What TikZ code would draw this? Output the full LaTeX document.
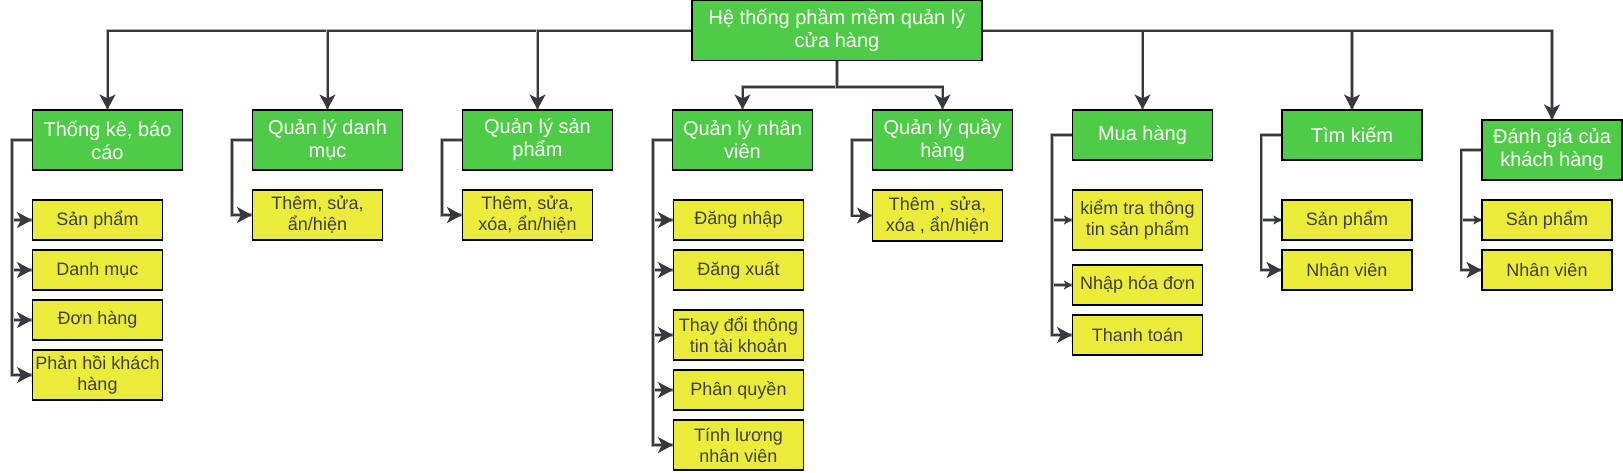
\documentclass[tikz,border=0pt]{standalone}
\usepackage{fontspec}
\setmainfont{Liberation Sans}
\usetikzlibrary{arrows.meta,calc}
\definecolor{gfill}{HTML}{4ECC47}
\definecolor{yfill}{HTML}{EBEB3A}
\definecolor{lcol}{HTML}{36393D}
\definecolor{tcol}{HTML}{404040}
\pgfdeclarelayer{bg}
\pgfsetlayers{bg,main}
\begin{document}
\begin{tikzpicture}[x=1pt,y=-1pt,
  gbox/.style={draw=black, line width=1.1pt, fill=gfill, text=white, font=\fontsize{20}{23}\selectfont, align=center, inner sep=0pt, minimum height=60pt, minimum width=150pt},
  ybox/.style={draw=black, line width=1.1pt, fill=yfill, text=tcol, font=\fontsize{18}{21}\selectfont, align=center, inner sep=0pt, minimum width=130pt, minimum height=40pt},
  conn/.style={draw=lcol, line width=2pt, preaction={draw=black!30, line width=3.8pt, -}},
  big/.style={-{Stealth[length=15pt,width=16pt,inset=4pt]}},
  small/.style={-{Stealth[length=8pt,width=9pt,inset=2pt]}},
]
\useasboundingbox (0,0) rectangle (1623,472);

% top level
\node[gbox, minimum width=290pt] (root) at (837,30.5) {Hệ thống phầm mềm quản lý\\cửa hàng};

\node[gbox] (tk) at (107.5,140) {Thống kê, báo\\cáo};
\node[gbox] (dm) at (327.5,140) {Quản lý danh\\mục};
\node[gbox] (sp) at (537.5,140) {Quản lý sản\\phẩm};
\node[gbox, minimum width=140pt] (nv) at (742.5,140) {Quản lý nhân\\viên};
\node[gbox, minimum width=140pt] (qh) at (942.5,140) {Quản lý quầy\\hàng};
\node[gbox, minimum width=140pt, minimum height=50pt] (mh) at (1142.5,135) {Mua hàng};
\node[gbox, minimum width=140pt, minimum height=50pt] (tkm) at (1352,135) {Tìm kiếm};
\node[gbox, minimum width=140pt] (dg) at (1552,150) {Đánh giá của\\khách hàng};

% children
\node[ybox] (tk1) at (97.5,220) {Sản phẩm};
\node[ybox] (tk2) at (97.5,270) {Danh mục};
\node[ybox] (tk3) at (97.5,320) {Đơn hàng};
\node[ybox, minimum height=50pt] (tk4) at (97.5,375) {Phản hồi khách\\hàng};

\node[ybox, minimum height=50pt] (dm1) at (317.5,215) {Thêm, sửa,\\ẩn/hiện};
\node[ybox, minimum height=50pt] (sp1) at (527.5,215) {Thêm, sửa,\\xóa, ẩn/hiện};

\node[ybox] (nv1) at (738.5,220) {Đăng nhập};
\node[ybox] (nv2) at (738.5,270) {Đăng xuất};
\node[ybox, minimum height=50pt] (nv3) at (738.5,335) {Thay đổi thông\\tin tài khoản};
\node[ybox] (nv4) at (738.5,390) {Phân quyền};
\node[ybox, minimum height=50pt] (nv5) at (738.5,445) {Tính lương\\nhân viên};

\node[ybox, minimum height=51pt] (qh1) at (937.5,215.5) {Thêm , sửa,\\xóa , ẩn/hiện};

\node[ybox, minimum height=60pt] (mh1) at (1137.5,220) {kiểm tra thông\\tin sản phẩm};
\node[ybox] (mh2) at (1137.5,285) {Nhập hóa đơn};
\node[ybox] (mh3) at (1137.5,335) {Thanh toán};

\node[ybox] (tkm1) at (1347,220) {Sản phẩm};
\node[ybox] (tkm2) at (1347,270) {Nhân viên};

\node[ybox] (dg1) at (1547,220) {Sản phẩm};
\node[ybox] (dg2) at (1547,270) {Nhân viên};

\begin{pgfonlayer}{bg}
% root to level 1
\draw[conn,big] (root.west) -| (tk.north);
\draw[conn,big] (root.west) -| (dm.north);
\draw[conn,big] (root.west) -| (sp.north);
\draw[conn,big] (root.east) -| (mh.north);
\draw[conn,big] (root.east) -| (tkm.north);
\draw[conn,big] (root.east) -| (dg.north);
\draw[conn,big] (root.south) -- ++(0,26) -| (nv.north);
\draw[conn,big] (root.south) -- ++(0,26) -| (qh.north);

% level 1 to children
\foreach \c in {tk1,tk2,tk3,tk4}
  \draw[conn,big] (tk.west) -- ++(-20,0) |- (\c.west);
\draw[conn,big] (dm.west) -- ++(-20,0) |- (dm1.west);
\draw[conn,big] (sp.west) -- ++(-20,0) |- (sp1.west);
\foreach \c in {nv1,nv2,nv3,nv4,nv5}
  \draw[conn,big] (nv.west) -- ++(-19,0) |- (\c.west);
\draw[conn,big] (qh.west) -- ++(-20,0) |- (qh1.west);
\draw[conn,small] (mh.west) -- ++(-20,0) |- (mh1.west);
\draw[conn,small] (mh.west) -- ++(-20,0) |- (mh2.west);
\draw[conn,big] (mh.west) -- ++(-20,0) |- (mh3.west);
\draw[conn,small] (tkm.west) -- ++(-20,0) |- (tkm1.west);
\draw[conn,big] (tkm.west) -- ++(-20,0) |- (tkm2.west);
\draw[conn,small] (dg.west) -- ++(-20,0) |- (dg1.west);
\draw[conn,big] (dg.west) -- ++(-20,0) |- (dg2.west);
\end{pgfonlayer}
\end{tikzpicture}
\end{document}
